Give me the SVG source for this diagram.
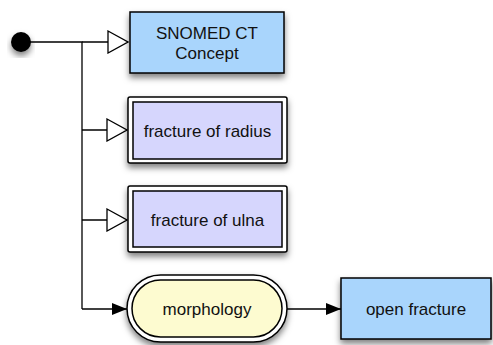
<svg xmlns="http://www.w3.org/2000/svg" width="493" height="345" viewBox="0 0 493 345">
<defs>
<filter id="sh" x="-20%" y="-20%" width="140%" height="150%">
<feDropShadow dx="0" dy="4" stdDeviation="3" flood-color="#000" flood-opacity="0.5"/>
</filter>
<marker id="hollow" markerWidth="22" markerHeight="24" refX="21" refY="12" orient="auto" markerUnits="userSpaceOnUse">
<path d="M1,1 L21,12 L1,23 Z" fill="#fff" stroke="#000" stroke-width="1.3"/>
</marker>
<marker id="solid" markerWidth="16" markerHeight="12" refX="15" refY="6" orient="auto" markerUnits="userSpaceOnUse">
<path d="M0,0 L15,6 L0,12 Z" fill="#000"/>
</marker>
</defs>
<style>
.t{font-family:"Liberation Sans",Arial,sans-serif;font-size:17px;fill:#111;text-anchor:middle}
.c{fill:none;stroke:#000;stroke-width:1.3}
.b{stroke:#000;stroke-width:1.5}
</style>
<g id="connectors">
<path class="c" d="M22,42 H82 V309"/>
<path class="c" d="M82,42 H128" marker-end="url(#hollow)"/>
<path class="c" d="M82,130 H127" marker-end="url(#hollow)"/>
<path class="c" d="M82,220 H127" marker-end="url(#hollow)"/>
<path class="c" d="M82,309 H127" marker-end="url(#solid)"/>
<path class="c" d="M287,309 H341" marker-end="url(#solid)"/>
</g>
<g id="start">
<circle cx="21" cy="42" r="10" fill="#000" filter="url(#sh)"/>
</g>
<g id="snomed">
<rect class="b" x="130" y="12" width="154" height="61" fill="#a9d5fc" filter="url(#sh)"/>
<text class="t" x="207" y="39">SNOMED CT</text>
<text class="t" x="207" y="59">Concept</text>
</g>
<g id="radius">
<rect class="b" x="128" y="97" width="159" height="66" rx="2" fill="#fff" filter="url(#sh)"/>
<rect class="b" x="133" y="102" width="149" height="57" fill="#d6d6fd"/>
<text class="t" x="207.5" y="137">fracture of radius</text>
</g>
<g id="ulna">
<rect class="b" x="128" y="186" width="159" height="66" rx="2" fill="#fff" filter="url(#sh)"/>
<rect class="b" x="133" y="191" width="149" height="56" fill="#d6d6fd"/>
<text class="t" x="207.5" y="226">fracture of ulna</text>
</g>
<g id="morphology">
<rect class="b" x="127" y="275" width="160" height="67" rx="33.5" fill="#fff" filter="url(#sh)"/>
<rect class="b" x="132" y="280" width="150" height="57" rx="28.5" fill="#fdfbd0"/>
<text class="t" x="207" y="315">morphology</text>
</g>
<g id="open-fracture">
<rect class="b" x="341" y="278" width="150" height="61" fill="#a9d5fc" filter="url(#sh)"/>
<text class="t" x="416" y="315">open fracture</text>
</g>
</svg>
